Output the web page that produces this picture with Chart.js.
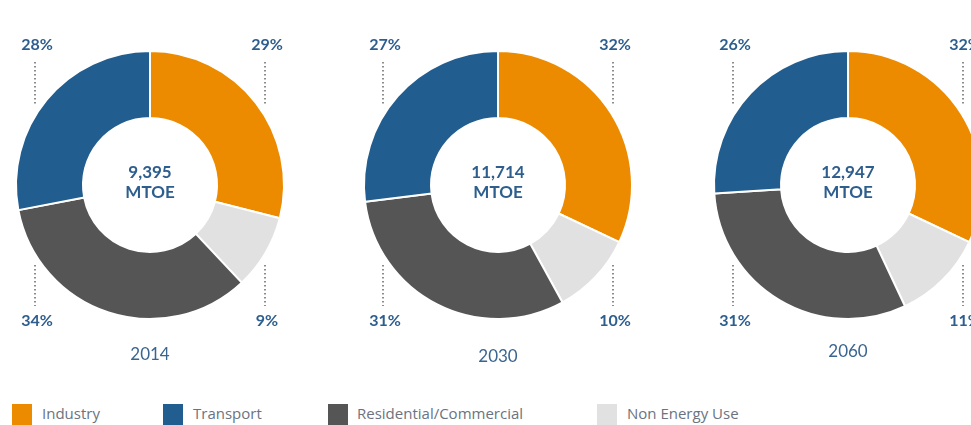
<!DOCTYPE html>
<html>
<head>
<meta charset="utf-8">
<script src="https://cdn.jsdelivr.net/npm/chart.js@4/dist/chart.umd.min.js"></script>
<style>
  html, body { margin: 0; padding: 0; background: #fff; }
  body { width: 971px; height: 425px; overflow: hidden; position: relative; }
  .pie { position: absolute; top: 15px; width: 340px; height: 360px; }
  #legend { position: absolute; left: 0; top: 403px; width: 971px; height: 22px; font-family: "Open Sans", sans-serif; font-size: 15px; color: #6b7380; }
  .item { position: absolute; top: 0; white-space: nowrap; }
  .item span.box { position: absolute; top: 1px; left: 0; width: 20px; height: 21px; }
  .item span.txt { position: absolute; top: 0; line-height: 20px; }
</style>
</head>
<body>
<canvas id="c0" class="pie" width="340" height="360" style="left:-20px"></canvas>
<canvas id="c1" class="pie" width="340" height="360" style="left:328px"></canvas>
<canvas id="c2" class="pie" width="340" height="360" style="left:678px"></canvas>
<div id="legend"></div>
<script>
// slices go clockwise from the top: Industry, Non Energy Use, Residential/Commercial, Transport
const categories = ['Industry', 'Non Energy Use', 'Residential/Commercial', 'Transport'];
const colors = ['#ec8b00', '#e1e1e1', '#555555', '#215d8f'];
const years = ['2014', '2030', '2060'];
const totals = ['9,395', '11,714', '12,947'];
const share2014 = [29, 9, 34, 28];
const share2030 = [32, 10, 31, 27];
const share2060 = [32, 11, 31, 26];
const shares = [share2014, share2030, share2060];

const legendOrder = ['Industry', 'Transport', 'Residential/Commercial', 'Non Energy Use'];
const legendX = [12, 163, 328, 597];
const yearOffset = [170, 172, 167];

const blue = '#2d5e8e';

// percentage labels sit at the corners of the ring, with dotted leaders
const cornerLabels = {
    id: 'cornerLabels',
    afterDraw(chart) {
        const ctx = chart.ctx;
        const arc = chart.getDatasetMeta(0).data[0];
        const cx = arc.x, cy = arc.y;
        const vals = chart.data.datasets[0].data;
        const spots = [
            { x: cx + 115, ty: cy - 140, l0: cy - 123, l1: cy - 79 },
            { x: cx + 115, ty: cy + 136, l0: cy + 80, l1: cy + 121 },
            { x: cx - 115, ty: cy + 136, l0: cy + 80, l1: cy + 121 },
            { x: cx - 115, ty: cy - 140, l0: cy - 123, l1: cy - 79 }
        ];
        ctx.save();
        ctx.textAlign = 'center';
        ctx.textBaseline = 'middle';
        ctx.font = 'bold 16px Lato, sans-serif';
        ctx.fillStyle = blue;
        spots.forEach((s, i) => {
            ctx.fillText(vals[i] + '%', s.x + 2, s.ty);
            ctx.beginPath();
            ctx.setLineDash([1.5, 2.5]);
            ctx.lineWidth = 2;
            ctx.strokeStyle = '#8c8c8c';
            ctx.moveTo(s.x, s.l0);
            ctx.lineTo(s.x, s.l1);
            ctx.stroke();
        });
        ctx.setLineDash([]);
        // centre total
        ctx.font = 'bold 17px Lato, sans-serif';
        ctx.fillStyle = blue;
        ctx.fillText(chart.options.plugins.cornerLabels.total, cx, cy - 12);
        ctx.fillText('MTOE', cx, cy + 8);
        // year under the ring
        ctx.font = '17px Lato, sans-serif';
        ctx.fillStyle = '#3a6591';
        ctx.fillText(chart.options.plugins.cornerLabels.year, cx, cy + chart.options.plugins.cornerLabels.yOff);
        ctx.restore();
    }
};

shares.forEach((vals, i) => {
    new Chart(document.getElementById('c' + i), {
        type: 'doughnut',
        data: {
            labels: categories,
            datasets: [{
                data: vals,
                backgroundColor: colors,
                borderColor: '#ffffff',
                borderWidth: 2,
                hoverOffset: 0
            }]
        },
        options: {
            responsive: false,
            animation: false,
            cutout: '50%',
            layout: { padding: { top: 35, bottom: 55, left: 35, right: 35 } },
            plugins: {
                legend: { display: false },
                tooltip: { enabled: false },
                cornerLabels: { total: totals[i], year: years[i], yOff: yearOffset[i] }
            }
        },
        plugins: [cornerLabels]
    });
});

const legend = document.getElementById('legend');
legendOrder.forEach((name, i) => {
    const item = document.createElement('div');
    item.className = 'item';
    item.style.left = legendX[i] + 'px';
    const box = document.createElement('span');
    box.className = 'box';
    box.style.background = colors[categories.indexOf(name)];
    const txt = document.createElement('span');
    txt.className = 'txt';
    txt.style.left = (i === 2 ? 29 : 30) + 'px';
    txt.textContent = name;
    item.appendChild(box);
    item.appendChild(txt);
    legend.appendChild(item);
});
</script>
</body>
</html>
